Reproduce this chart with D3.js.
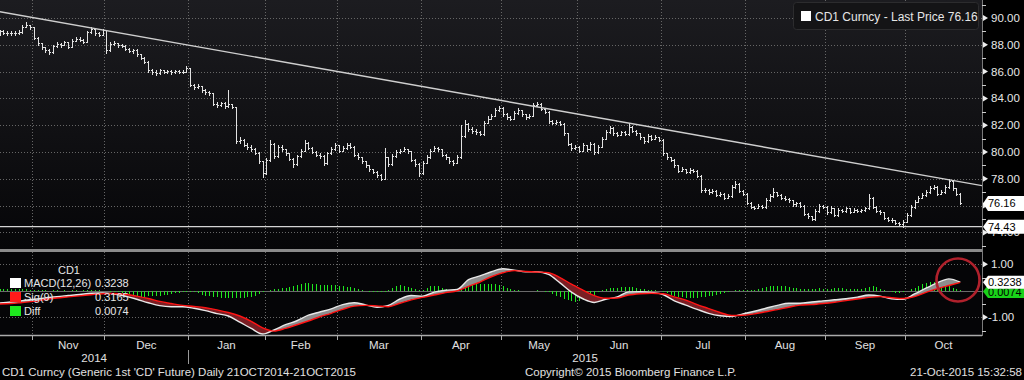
<!DOCTYPE html>
<html><head><meta charset="utf-8">
<script src="https://cdn.jsdelivr.net/npm/d3@7"></script>
<style>body{margin:0;background:#000;}svg{display:block;font-family:"Liberation Sans",Arial,sans-serif;}</style>
</head><body><svg id="c" width="1024" height="380"></svg>
<script>
// ---- DATA (daily trading days 21-Oct-2014 .. 21-Oct-2015, index 0..252) ----
const closes = [
89.00,88.90,88.85,88.90,88.85,88.95,89.35,89.45,89.30,88.50,
88.10,87.80,87.60,87.45,87.90,88.05,88.00,88.20,87.85,88.30,
88.45,88.35,88.20,88.95,89.20,88.85,88.75,89.10,87.60,88.05,
88.10,87.95,87.90,87.70,87.55,87.60,87.30,87.05,86.75,86.10,
86.00,85.90,86.10,86.00,86.05,85.95,86.05,86.00,86.00,86.25,
85.00,84.85,84.90,84.60,84.45,84.40,83.60,83.50,83.65,83.40,
83.55,83.35,80.85,80.90,80.55,80.40,80.25,79.95,79.30,78.40,
79.40,80.60,79.70,80.40,80.20,79.90,79.50,79.10,79.70,80.10,
80.70,80.30,80.00,79.80,79.70,79.15,79.90,80.20,80.50,80.10,
80.30,80.55,80.40,79.80,79.60,79.30,79.00,78.70,78.50,78.30,
78.00,79.60,79.10,79.70,80.00,80.10,80.20,80.05,79.40,79.10,
78.40,79.20,79.60,80.10,80.30,80.20,79.80,79.60,79.30,79.20,
79.60,81.20,82.10,81.70,81.60,81.50,81.35,82.20,82.50,82.70,
83.10,83.30,82.80,82.60,82.50,82.90,83.10,82.80,82.60,82.70,
83.50,83.60,83.20,83.00,82.30,82.20,82.25,82.10,81.40,80.60,
80.30,80.40,80.10,80.50,80.20,80.60,80.00,80.40,81.00,81.50,
81.80,81.40,81.30,81.50,81.35,81.90,81.60,81.40,81.10,80.80,
81.20,81.00,81.10,80.90,79.90,79.60,79.40,79.00,78.60,78.70,
78.50,78.65,78.60,78.20,77.15,77.20,77.00,77.10,76.80,76.90,
76.60,76.70,77.40,77.60,77.10,76.90,76.20,75.90,75.85,76.00,
75.90,76.40,76.70,77.00,76.80,76.60,76.50,76.40,76.10,76.20,
76.00,75.40,75.20,75.00,75.60,76.00,75.90,75.50,75.80,75.30,
75.70,75.60,75.80,75.55,75.70,75.60,75.65,75.80,76.60,75.90,
75.60,75.50,75.10,74.95,74.90,74.70,74.60,74.80,75.30,75.90,
76.30,76.60,76.80,77.00,77.30,77.40,76.90,77.00,77.40,77.85,
77.30,76.90,76.16];
const highs = [
89.10,89.10,89.00,89.00,89.00,89.10,89.45,89.72,89.50,89.30,
88.55,88.15,87.85,87.70,88.00,88.20,88.15,88.30,88.20,88.40,
88.60,88.55,88.40,89.05,89.30,89.20,88.95,89.20,89.10,88.20,
88.25,88.15,88.05,87.95,87.75,87.70,87.65,87.35,87.10,86.80,
86.20,86.10,86.20,86.15,86.15,86.10,86.15,86.10,86.10,86.40,
86.25,85.10,85.05,84.95,84.70,84.55,84.40,83.70,83.75,83.70,
84.60,83.60,83.30,81.10,80.95,80.65,80.50,80.30,80.00,79.35,
79.55,80.90,80.65,80.55,80.50,80.25,79.95,79.55,79.80,80.25,
80.90,80.75,80.35,80.05,79.90,79.75,80.00,80.35,80.65,80.55,
80.45,80.70,80.65,80.45,79.90,79.65,79.35,79.05,78.75,78.55,
78.35,80.30,79.65,79.85,80.15,80.25,80.35,80.25,80.10,79.45,
79.15,79.35,79.75,80.25,80.45,80.40,80.25,79.85,79.65,79.40,
79.75,82.00,82.40,82.15,81.85,81.70,81.60,82.35,82.65,82.85,
83.25,83.45,83.35,82.90,82.70,83.05,83.25,83.15,82.85,82.85,
83.65,83.75,83.65,83.25,83.05,82.40,82.40,82.30,82.15,81.45,
80.65,80.55,80.45,80.65,80.55,80.75,80.65,80.55,81.15,81.65,
81.95,81.85,81.50,81.60,81.55,82.20,81.95,81.65,81.45,81.15,
81.35,81.25,81.25,81.15,80.95,79.95,79.65,79.45,79.05,78.85,
78.75,78.80,78.75,78.65,78.25,77.35,77.25,77.25,77.15,77.00,
76.95,76.85,77.55,77.80,77.65,77.15,76.95,76.25,76.00,76.10,
76.05,76.55,76.85,77.30,77.05,76.85,76.70,76.60,76.45,76.30,
76.25,76.05,75.45,75.25,75.75,76.15,76.05,75.95,75.95,75.85,
75.85,75.75,75.90,75.85,75.80,75.75,75.75,75.90,76.90,76.65,
75.95,75.65,75.55,75.15,75.05,74.95,74.75,74.90,75.45,76.05,
76.45,76.75,76.95,77.15,77.45,77.55,77.45,77.15,77.55,77.95,
77.90,77.35,76.95];
const lows = [
88.70,88.80,88.75,88.75,88.75,88.80,88.90,89.30,89.20,88.40,
88.00,87.70,87.50,87.35,87.40,87.85,87.85,87.95,87.75,87.85,
88.25,88.25,88.10,88.20,88.90,88.75,88.65,88.70,87.40,87.55,
87.95,87.85,87.80,87.60,87.45,87.40,87.20,86.95,86.65,86.00,
85.85,85.75,85.85,85.90,85.90,85.85,85.90,85.90,85.90,85.95,
84.90,84.70,84.75,84.50,84.35,84.25,83.50,83.35,83.40,83.30,
83.35,83.25,80.70,80.70,80.45,80.25,80.10,79.85,79.15,78.10,
78.35,79.35,79.55,79.65,80.05,79.80,79.40,78.85,79.05,79.65,
80.05,80.20,79.90,79.70,79.55,79.05,79.10,79.85,80.15,80.00,
80.05,80.25,80.30,79.70,79.45,79.20,78.90,78.55,78.40,78.15,
77.90,77.95,78.95,79.05,79.65,79.95,80.05,79.95,79.30,78.95,
78.20,78.35,79.15,79.55,80.05,80.10,79.70,79.50,79.20,79.05,
79.15,79.55,81.15,81.55,81.45,81.35,81.25,81.30,82.15,82.45,
82.65,83.05,82.70,82.50,82.40,82.45,82.85,82.70,82.50,82.55,
82.65,83.40,83.10,82.90,82.20,82.10,82.10,82.00,81.30,80.50,
80.15,80.20,80.00,80.05,80.10,80.15,79.85,79.95,80.35,80.95,
81.45,81.30,81.20,81.25,81.25,81.30,81.50,81.30,81.00,80.70,
80.75,80.90,80.95,80.80,79.80,79.50,79.30,78.90,78.50,78.55,
78.40,78.45,78.50,78.10,77.05,77.05,76.90,76.95,76.70,76.70,
76.50,76.55,76.65,77.35,77.00,76.80,76.10,75.80,75.75,75.80,
75.80,75.85,76.35,76.65,76.70,76.50,76.40,76.30,76.00,76.00,
75.90,75.30,75.10,74.95,74.95,75.55,75.80,75.40,75.45,75.20,
75.25,75.50,75.55,75.45,75.50,75.50,75.55,75.60,75.75,75.80,
75.50,75.40,75.00,74.85,74.80,74.60,74.50,74.43,74.75,75.25,
75.85,76.25,76.55,76.75,76.95,77.25,76.80,76.85,76.95,77.35,
77.20,76.80,76.10];
// MACD(12,26) and Sig(9), read every 3rd trading day (day = 3*k)
const macdStep = 3;
const macd = [
-0.46,-0.42,-0.37,-0.32,-0.27,-0.22,-0.18,-0.14,-0.09,-0.08,
-0.12,-0.20,-0.32,-0.45,-0.56,-0.60,-0.60,-0.66,-0.75,-0.86,
-0.95,-1.18,-1.42,-1.63,-1.48,-1.28,-1.13,-0.92,-0.80,-0.68,
-0.52,-0.45,-0.53,-0.62,-0.55,-0.31,-0.18,-0.20,-0.05,0.02,
0.05,0.42,0.56,0.72,0.83,0.78,0.72,0.72,0.62,0.30,
-0.05,-0.30,-0.44,-0.32,-0.23,-0.04,-0.03,-0.06,-0.14,-0.38,
-0.54,-0.70,-0.85,-0.94,-0.97,-0.87,-0.77,-0.66,-0.55,-0.47,
-0.47,-0.42,-0.38,-0.34,-0.30,-0.24,-0.16,-0.20,-0.30,-0.32,
-0.12,0.10,0.30,0.45,0.3238];
const signal = [
-0.50,-0.48,-0.44,-0.40,-0.33,-0.27,-0.23,-0.19,-0.15,-0.11,
-0.10,-0.13,-0.20,-0.29,-0.40,-0.48,-0.55,-0.59,-0.64,-0.72,
-0.82,-0.95,-1.15,-1.40,-1.52,-1.42,-1.28,-1.14,-0.98,-0.85,
-0.70,-0.58,-0.55,-0.57,-0.60,-0.47,-0.34,-0.25,-0.16,-0.07,
0.00,0.17,0.33,0.53,0.68,0.76,0.73,0.71,0.68,0.50,
0.25,0.03,-0.18,-0.28,-0.27,-0.16,-0.11,-0.09,-0.11,-0.23,
-0.35,-0.52,-0.67,-0.82,-0.93,-0.92,-0.87,-0.79,-0.71,-0.62,
-0.54,-0.52,-0.48,-0.43,-0.37,-0.31,-0.25,-0.22,-0.26,-0.29,
-0.22,-0.06,0.08,0.20,0.3165];
// Diff histogram (daily, as drawn on the MACD panel)
const diff = [
0.06,0.06,0.05,0.06,0.05,0.06,0.05,0.05,0.04,0.04,
0.03,0.02,0.02,0.01,0.02,0.02,0.01,0.02,0.01,0.02,
0.02,0.01,0.02,0.03,0.04,0.03,0.02,0.01,-0.02,-0.03,
-0.04,-0.05,-0.07,-0.09,-0.12,-0.16,-0.20,-0.22,-0.23,-0.21,
-0.20,-0.19,-0.18,-0.16,-0.14,-0.12,-0.10,-0.08,-0.05,-0.03,
-0.03,-0.06,-0.10,-0.14,-0.18,-0.20,-0.22,-0.24,-0.26,-0.27,
-0.28,-0.29,-0.29,-0.28,-0.27,-0.25,-0.22,-0.18,-0.12,-0.06,
-0.01,0.02,0.05,0.07,0.09,0.12,0.15,0.18,0.22,0.26,
0.29,0.30,0.27,0.24,0.23,0.22,0.23,0.22,0.21,0.19,
0.17,0.15,0.13,0.10,0.07,0.04,0.01,-0.03,-0.05,-0.06,
-0.06,-0.04,0.04,0.12,0.18,0.22,0.20,0.15,0.10,0.05,
0.03,0.04,0.10,0.17,0.19,0.17,0.12,0.07,0.04,0.03,
0.04,0.14,0.22,0.25,0.26,0.26,0.24,0.25,0.26,0.26,
0.24,0.22,0.18,0.10,0.06,0.04,0.02,0.01,0.00,-0.01,
0.01,0.02,0.00,-0.03,-0.06,-0.12,-0.18,-0.24,-0.30,-0.36,
-0.40,-0.42,-0.40,-0.36,-0.30,-0.22,-0.14,-0.06,0.03,0.06,
0.09,0.11,0.12,0.13,0.14,0.15,0.13,0.10,0.08,0.06,
0.04,0.03,0.02,-0.01,-0.05,-0.10,-0.15,-0.19,-0.22,-0.24,
-0.26,-0.27,-0.27,-0.26,-0.25,-0.23,-0.21,-0.19,-0.16,-0.12,
-0.08,-0.04,0.00,0.02,0.04,0.03,0.02,0.02,0.04,0.08,
0.12,0.15,0.17,0.18,0.19,0.19,0.17,0.15,0.12,0.10,
0.08,0.07,0.06,0.07,0.08,0.09,0.08,0.07,0.08,0.09,
0.10,0.09,0.08,0.07,0.06,0.06,0.08,0.12,0.16,0.17,
0.14,0.08,0.03,-0.02,-0.05,-0.07,-0.07,-0.05,-0.02,0.05,
0.12,0.18,0.24,0.28,0.32,0.34,0.33,0.29,0.24,0.18,
0.12,0.07,0.03];
const months = ["Nov","Dec","Jan","Feb","Mar","Apr","May","Jun","Jul","Aug","Sep","Oct"];
const monthStarts = [9,28,50,70,89,111,132,152,174,196,217,238]; // first trading day of each month
const years = ["2014","2015"];
const yearStarts = [0,50];
const priceTicks = [90,88,86,84,82,80,78,76,74];
const priceMinor = [91,89,87,85,83,81,79,77,75,73];
const macdTicks = [1,-1];
const macdMinor = [0.5,-0.5,-1.5];
const trendDays = [0,257.7], trendValues = [90.47,77.49];
const lowValue = 74.43, lastPrice = 76.16;
const legendTop = "CD1 Curncy - Last Price 76.16";
const macdLegend = [["MACD(12,26)","0.3238","#ffffff"],["Sig(9)","0.3165","#ff1a1a"],["Diff","0.0074","#1ee81e"]];
const lastMacd = 0.3238, lastDiff = 0.0074;

// ---- LAYOUT ----
const W=1024,H=380,AX=982,endDay=257.7;
const svg=d3.select("#c");
const x=d3.scaleLinear().domain([0,endDay]).range([-0.4,AX]);
const yP=d3.scaleLinear().domain([74,90]).range([232.4,18]);
const yM=d3.scaleLinear().domain([-1,1]).range([317.3,264.3]);
const px=v=>Math.round(v)+0.5;

const defs=svg.append("defs");
const g=defs.append("linearGradient").attr("id","bg").attr("x1",0).attr("y1",0).attr("x2",0).attr("y2",1);
g.append("stop").attr("offset","0%").attr("stop-color","#1c1c20");
g.append("stop").attr("offset","100%").attr("stop-color","#060608");
defs.append("clipPath").attr("id","clipM").append("rect").attr("x",0).attr("y",0).attr("width",AX).attr("height",249);
defs.append("clipPath").attr("id","clipB").append("rect").attr("x",0).attr("y",252).attr("width",AX).attr("height",83);

svg.append("rect").attr("width",W).attr("height",H).attr("fill","#000");
svg.append("rect").attr("x",0).attr("y",0).attr("width",AX).attr("height",249).attr("fill","url(#bg)");
svg.append("rect").attr("x",0).attr("y",252).attr("width",AX).attr("height",83).attr("fill","#050507");

// grid
const grid=svg.append("g").attr("stroke","#666").attr("stroke-width",1).attr("stroke-dasharray","1,2").attr("shape-rendering","crispEdges");
priceTicks.forEach(v=>grid.append("line").attr("x1",0).attr("x2",AX).attr("y1",px(yP(v))).attr("y2",px(yP(v))));
macdTicks.forEach(v=>grid.append("line").attr("x1",0).attr("x2",AX).attr("y1",px(yM(v))).attr("y2",px(yM(v))));
monthStarts.forEach(d=>{const xx=px(x(d-0.5));grid.append("line").attr("x1",xx).attr("x2",xx).attr("y1",0).attr("y2",335);});

// zero line
svg.append("line").attr("x1",0).attr("x2",AX).attr("y1",px(yM(0))).attr("y2",px(yM(0))).attr("stroke","#6a6a6a").attr("shape-rendering","crispEdges");

// diff bars
svg.append("g").attr("clip-path","url(#clipB)").attr("stroke","#1ee81e").attr("stroke-width",1).attr("shape-rendering","crispEdges")
 .selectAll("line").data(diff.map((v,i)=>({v,i})).filter(d=>d.v!==0)).join("line")
 .attr("x1",d=>px(x(d.i))).attr("x2",d=>px(x(d.i))).attr("y1",yM(0)).attr("y2",d=>yM(d.v));

// MACD / signal with fills
const pts=macd.map((m,k)=>({d:k*macdStep,m,s:signal[k]}));
const cv=d3.curveMonotoneX;
const between=d3.area().x(p=>x(p.d)).y0(p=>yM(p.s)).y1(p=>yM(p.m)).curve(cv);
defs.append("clipPath").attr("id","aboveS").append("path").attr("d",d3.area().x(p=>x(p.d)).y0(252).y1(p=>yM(p.s)).curve(cv)(pts));
defs.append("clipPath").attr("id","belowS").append("path").attr("d",d3.area().x(p=>x(p.d)).y0(336).y1(p=>yM(p.s)).curve(cv)(pts));
const gb=svg.append("g").attr("clip-path","url(#clipB)");
gb.append("g").attr("clip-path","url(#aboveS)").append("path").attr("d",between(pts)).attr("fill","#8e8e8e");
gb.append("g").attr("clip-path","url(#belowS)").append("path").attr("d",between(pts)).attr("fill","#7a1e24");
gb.append("path").attr("d",d3.line().x(p=>x(p.d)).y(p=>yM(p.m)).curve(cv)(pts)).attr("fill","none").attr("stroke","#e8e8e8").attr("stroke-width",1.4);
gb.append("path").attr("d",d3.line().x(p=>x(p.d)).y(p=>yM(p.s)).curve(cv)(pts)).attr("fill","none").attr("stroke","#ff1414").attr("stroke-width",1.4);

// price bars (OHLC)
const gp=svg.append("g").attr("clip-path","url(#clipM)").attr("stroke","#e2e2e2").attr("stroke-width",1).attr("shape-rendering","crispEdges");
closes.forEach((c,i)=>{
  const r=Math.round(x(i)), xx=r+0.5;
  const o=i>0?closes[i-1]:c;
  gp.append("line").attr("x1",xx).attr("x2",xx).attr("y1",Math.round(yP(highs[i]))).attr("y2",Math.round(yP(lows[i]))+1);
  gp.append("line").attr("x1",r-1).attr("x2",r+1).attr("y1",px(yP(o))).attr("y2",px(yP(o)));
  gp.append("line").attr("x1",r).attr("x2",r+2).attr("y1",px(yP(c))).attr("y2",px(yP(c)));
});
// trend line and low line
svg.append("path").attr("clip-path","url(#clipM)").attr("d",d3.line()([[x(trendDays[0]),yP(trendValues[0])],[x(trendDays[1]),yP(trendValues[1])]]))
 .attr("stroke","#cfcfcf").attr("stroke-width",1.4).attr("fill","none");
svg.append("line").attr("x1",0).attr("x2",AX).attr("y1",yP(lowValue)).attr("y2",yP(lowValue)).attr("stroke","#d4d4d4").attr("stroke-width",1.4);

// separators & axes
svg.append("rect").attr("x",0).attr("y",249).attr("width",AX).attr("height",3).attr("fill","#8a8a8a");
svg.append("line").attr("x1",0).attr("x2",AX).attr("y1",335.5).attr("y2",335.5).attr("stroke","#aaa").attr("stroke-width",1.5);
svg.append("line").attr("x1",AX+0.5).attr("x2",AX+0.5).attr("y1",0).attr("y2",336).attr("stroke","#7a7a7a");
const ticksB=svg.append("g").attr("stroke","#aaa").attr("shape-rendering","crispEdges");
monthStarts.forEach(d=>{const xx=px(x(d-0.5));ticksB.append("line").attr("x1",xx).attr("x2",xx).attr("y1",336).attr("y2",340);});

// month labels
const bounds=monthStarts.map(d=>x(d-0.5)).concat([AX]);
const tl=svg.append("g").attr("fill","#e0e0e0").attr("font-size","11.5px").attr("text-anchor","middle");
months.forEach((m,k)=>tl.append("text").attr("x",(bounds[k]+bounds[k+1])/2).attr("y",349).text(m));
const yb=[Math.max(0,x(yearStarts[0]-0.5)), x(yearStarts[1]-0.5), AX];
years.forEach((yy,k)=>tl.append("text").attr("x",(yb[k]+yb[k+1])/2).attr("y",362).text(yy));
svg.append("line").attr("x1",px(x(yearStarts[1]-0.5))).attr("x2",px(x(yearStarts[1]-0.5))).attr("y1",350).attr("y2",364).attr("stroke","#999").attr("shape-rendering","crispEdges");

// right axis
const ra=svg.append("g").attr("font-size","11.5px").attr("fill","#e6e6e6");
const tri=yy=>`M${AX+1},${yy-3}L${AX+6},${yy}L${AX+1},${yy+3}Z`;
const hiddenByTag=v=>Math.abs(yP(v)-yP(lastPrice))<7;
priceTicks.forEach(v=>{const yy=yP(v);ra.append("path").attr("d",tri(yy)).attr("fill","#eee");if(!hiddenByTag(v))ra.append("text").attr("x",991).attr("y",yy+4).text(v.toFixed(2));});
priceMinor.forEach(v=>ra.append("line").attr("x1",AX).attr("x2",AX+4).attr("y1",px(yP(v))).attr("y2",px(yP(v))).attr("stroke","#ccc").attr("shape-rendering","crispEdges"));
macdTicks.forEach(v=>{const yy=yM(v);ra.append("path").attr("d",tri(yy)).attr("fill","#eee");ra.append("text").attr("x",v<0?988:991).attr("y",yy+4).text(v.toFixed(2));});
macdMinor.forEach(v=>ra.append("line").attr("x1",AX).attr("x2",AX+4).attr("y1",px(yM(v))).attr("y2",px(yM(v))).attr("stroke","#ccc").attr("shape-rendering","crispEdges"));
const tag=(yy,txt,fill,h)=>{
  ra.append("path").attr("d",`M${AX+1},${yy}L${AX+6},${yy-h/2}H1024V${yy+h/2}H${AX+6}Z`).attr("fill",fill);
  ra.append("text").attr("x",988).attr("y",yy+4).attr("font-size","11px").attr("fill","#000").text(txt);
};
tag(yP(lastPrice),lastPrice.toFixed(2),"#fff",15);
tag(yP(lowValue),lowValue.toFixed(2),"#fff",14);
tag(yM(lastDiff)+1,lastDiff.toFixed(4),"#19d219",13);
tag(yM(lastMacd),lastMacd.toFixed(4),"#fff",13);

// top legend
const lg=svg.append("g");
lg.append("rect").attr("x",793.5).attr("y",2.5).attr("width",185).attr("height",27).attr("rx",3).attr("fill","#141416").attr("stroke","#2c2c2e");
lg.append("rect").attr("x",801).attr("y",11).attr("width",10).attr("height",10).attr("fill","#fff");
lg.append("text").attr("x",815).attr("y",21).attr("font-size","12px").attr("fill","#e6e6e6").text(legendTop);

// MACD legend
const ml=svg.append("g").attr("font-size","11px").attr("fill","#e6e6e6");
ml.append("text").attr("x",69).attr("y",274).attr("text-anchor","middle").text("CD1");
macdLegend.forEach((r,k)=>{
  const yy=278+k*14;
  ml.append("rect").attr("x",10).attr("y",yy).attr("width",11).attr("height",10).attr("fill",r[2]);
  ml.append("text").attr("x",24).attr("y",yy+9).text(r[0]);
  ml.append("text").attr("x",95).attr("y",yy+9).text(r[1]);
});

// annotation circle
svg.append("circle").attr("cx",958).attr("cy",280).attr("r",21.5).attr("fill","none").attr("stroke","#b0212c").attr("stroke-width",2.6);

// footer
const ft=svg.append("g").attr("font-size","11.5px").attr("fill","#e0e0e0");
ft.append("text").attr("x",2).attr("y",376).text("CD1 Curncy (Generic 1st 'CD' Future)  Daily 21OCT2014-21OCT2015");
ft.append("text").attr("x",525).attr("y",376).text("Copyright\u00a9 2015 Bloomberg Finance L.P.");
ft.append("text").attr("x",1022).attr("y",376).attr("text-anchor","end").text("21-Oct-2015 15:32:58");
</script></body></html>
